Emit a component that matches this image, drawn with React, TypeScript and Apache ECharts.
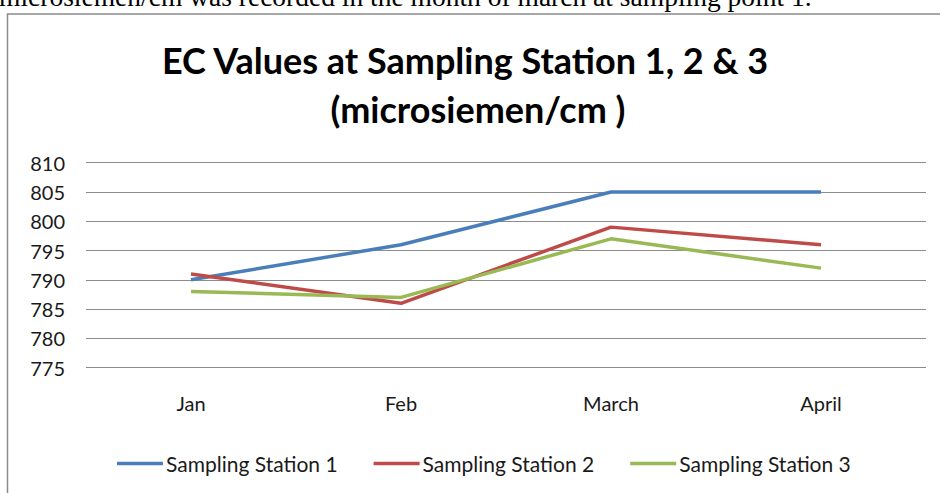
import React, { useEffect, useRef } from "react";
import * as echarts from "echarts";

const categories = ["Jan", "Feb", "March", "April"];
const station1 = [790, 796, 805, 805];
const station2 = [791, 786, 799, 796];
const station3 = [788, 787, 797, 792];
const seriesNames = ["Sampling Station 1", "Sampling Station 2", "Sampling Station 3"];
const seriesColors = ["#4A7EBB", "#BE4B48", "#98B954"];
const titleLines = ["EC Values at Sampling Station 1, 2 & 3", "(microsiemen/cm )"];
const captionText = "microsiemen/cm was recorded in the month of march at sampling point 1.";

export default function App() {
  const ref = useRef<HTMLDivElement>(null);
  useEffect(() => {
    if (!ref.current) return;
    const chart = echarts.init(ref.current, undefined, { renderer: "svg" });
    const font = "Lato";
    const data = [station1, station2, station3];
    chart.setOption({
      animation: false,
      backgroundColor: "#ffffff",
      graphic: [
        {
          type: "text",
          x: -1,
          y: -3.5,
          style: {
            text: captionText,
            font: "27.5px 'Liberation Serif'",
            fill: "#000",
            verticalAlign: "middle",
          },
        },
        {
          type: "rect",
          shape: { x: 7.5, y: 14, width: 960, height: 500 },
          style: { fill: "none", stroke: "#8a8a8a", lineWidth: 1.5 },
        },
        {
          type: "text",
          x: 465,
          y: 60,
          style: {
            text: titleLines[0],
            font: `bold 36px ${font}`,
            fill: "#000",
            align: "center",
            verticalAlign: "middle",
          },
        },
        {
          type: "text",
          x: 478,
          y: 109,
          style: {
            text: titleLines[1],
            font: `bold 36px ${font}`,
            fill: "#000",
            align: "center",
            verticalAlign: "middle",
          },
        },
      ],
      grid: { left: 86, right: 14, top: 162.7, bottom: 493 - 367.7 },
      xAxis: {
        type: "category",
        data: categories,
        boundaryGap: true,
        axisLine: { show: false },
        axisTick: { show: false },
        axisLabel: { margin: 25, fontSize: 20, color: "#1a1a1a", fontFamily: font },
      },
      yAxis: {
        type: "value",
        min: 775,
        max: 810,
        interval: 5,
        axisLine: { show: false },
        axisTick: { show: false },
        axisLabel: { margin: 21, fontSize: 20, color: "#1a1a1a", fontFamily: font },
        splitLine: { lineStyle: { color: "#8c8c8c", width: 1.2 } },
      },
      legend: {
        data: seriesNames,
        top: 448,
        left: 112,
        icon: "rect",
        itemWidth: 46,
        itemHeight: 3.5,
        itemGap: 36,
        textStyle: { fontSize: 21, color: "#1a1a1a", fontFamily: font, padding: [0, 0, 0, -2] },
      },
      series: seriesNames.map((name, i) => ({
        name,
        type: "line",
        data: data[i],
        symbol: "none",
        color: seriesColors[i],
        lineStyle: { width: 3.5, color: seriesColors[i] },
      })),
    });
    return () => chart.dispose();
  }, []);
  return (
    <div
      ref={ref}
      style={{ position: "absolute", left: 0, top: 0, width: 940, height: 493 }}
    />
  );
}
